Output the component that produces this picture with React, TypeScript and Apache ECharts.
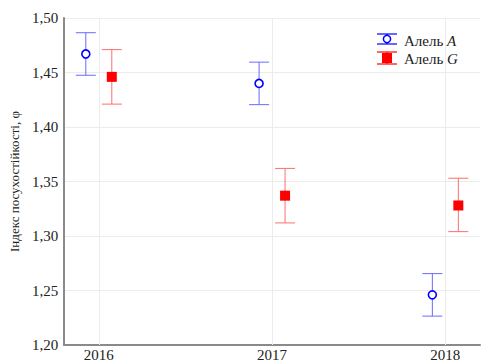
import React, { useEffect, useRef } from "react";
import * as echarts from "echarts";

// Years of observation
const years = [2016, 2017, 2018];

// Allele A: mean drought-tolerance index and its confidence bounds
const alleleAMean = [1.467, 1.44, 1.246];
const alleleALow = [1.4475, 1.4205, 1.2265];
const alleleAHigh = [1.4865, 1.4595, 1.2655];

// Allele G: mean drought-tolerance index and its confidence bounds
const alleleGMean = [1.446, 1.337, 1.328];
const alleleGLow = [1.421, 1.312, 1.304];
const alleleGHigh = [1.471, 1.362, 1.353];

// Y-axis tick range
const yMin = 1.2;
const yMax = 1.5;
const yStep = 0.05;

const SERIF = "'Liberation Serif', 'Times New Roman', serif";
const BLUE = "#0000ff";
const BLUE_BAR = "#6a6aff";
const RED = "#ff0000";
const RED_BAR = "#ff6e6e";
const SHIFT = 0.075; // horizontal dodge of the two alleles around each year

function errorBarItem(color: string) {
  return (params: any, api: any) => {
    const x = api.value(0);
    const lo = api.coord([x, api.value(1)]);
    const hi = api.coord([x, api.value(2)]);
    const hw = 10;
    const style = { stroke: color, lineWidth: 1 };
    return {
      type: "group",
      children: [
        { type: "line", shape: { x1: lo[0], y1: lo[1], x2: hi[0], y2: hi[1] }, style },
        { type: "line", shape: { x1: hi[0] - hw, y1: hi[1], x2: hi[0] + hw, y2: hi[1] }, style },
        { type: "line", shape: { x1: lo[0] - hw, y1: lo[1], x2: lo[0] + hw, y2: lo[1] }, style },
      ],
    };
  };
}

export default function App() {
  const ref = useRef<HTMLDivElement>(null);

  useEffect(() => {
    document.body.style.margin = "0";
    if (!ref.current) return;
    const chart = echarts.init(ref.current, null, { renderer: "svg" });

    const aBars = years.map((y, i) => [y - SHIFT, alleleALow[i], alleleAHigh[i]]);
    const gBars = years.map((y, i) => [y + SHIFT, alleleGLow[i], alleleGHigh[i]]);
    const aPts = years.map((y, i) => [y - SHIFT, alleleAMean[i]]);
    const gPts = years.map((y, i) => [y + SHIFT, alleleGMean[i]]);

    const legendRich = {
      n: { fontFamily: SERIF, fontSize: 15, fill: "#222" },
      i: { fontFamily: SERIF, fontSize: 15, fontStyle: "italic", fill: "#222" },
    };

    // legend drawn as small error-bar glyphs next to the labels
    const lx = 387;
    const legend = {
      type: "group",
      children: [
        { type: "line", shape: { x1: lx - 10, y1: 34, x2: lx + 10, y2: 34 }, style: { stroke: BLUE, lineWidth: 1.2 } },
        { type: "line", shape: { x1: lx, y1: 34, x2: lx, y2: 44 }, style: { stroke: BLUE, lineWidth: 1.2 } },
        { type: "line", shape: { x1: lx - 10, y1: 44, x2: lx + 10, y2: 44 }, style: { stroke: BLUE, lineWidth: 1.2 } },
        { type: "circle", shape: { cx: lx, cy: 39, r: 3.6 }, style: { fill: "#fff", stroke: BLUE, lineWidth: 1.5 } },
        { type: "line", shape: { x1: lx - 10, y1: 52, x2: lx + 10, y2: 52 }, style: { stroke: RED, lineWidth: 1.2 } },
        { type: "line", shape: { x1: lx, y1: 52, x2: lx, y2: 64 }, style: { stroke: RED, lineWidth: 1.2 } },
        { type: "line", shape: { x1: lx - 10, y1: 64, x2: lx + 10, y2: 64 }, style: { stroke: RED, lineWidth: 1.2 } },
        { type: "rect", shape: { x: lx - 5, y: 53, width: 10, height: 10 }, style: { fill: RED } },
        {
          type: "text",
          x: 404,
          y: 41,
          style: { text: "{n|Алель }{i|A}", verticalAlign: "middle", rich: legendRich },
        },
        {
          type: "text",
          x: 404,
          y: 59,
          style: { text: "{n|Алель }{i|G}", verticalAlign: "middle", rich: legendRich },
        },
      ],
    };

    chart.setOption({
      animation: false,
      backgroundColor: "#fff",
      grid: { left: 58, top: 18, bottom: 17, right: -5 },
      xAxis: {
        type: "value",
        min: 2015.8,
        max: 2018.2,
        interval: 0.2,
        axisLine: { show: true, lineStyle: { color: "#8a8a8a", width: 2 } },
        axisTick: { show: false },
        splitLine: { show: false },
        axisLabel: {
          margin: 2,
          fontFamily: SERIF,
          fontSize: 15,
          lineHeight: 15,
          color: "#222",
          formatter: (v: number) =>
            Math.abs(v - Math.round(v)) < 1e-6 ? String(Math.round(v)) : "",
        },
      },
      yAxis: {
        type: "value",
        min: yMin,
        max: yMax,
        interval: yStep,
        name: "Індекс посухостійкості, φ",
        nameLocation: "middle",
        nameGap: 43,
        nameTextStyle: { fontFamily: SERIF, fontSize: 13, color: "#222" },
        axisLine: { show: true, lineStyle: { color: "#8a8a8a", width: 2 } },
        axisTick: { show: false },
        splitLine: { show: true, lineStyle: { color: "#ececec", width: 1 } },
        axisLabel: {
          margin: 6,
          fontFamily: SERIF,
          fontSize: 15,
          color: "#222",
          formatter: (v: number) => v.toFixed(2).replace(".", ","),
        },
      },
      graphic: [legend],
      series: [
        {
          type: "custom",
          name: "A bars",
          renderItem: errorBarItem(BLUE_BAR),
          data: aBars,
          z: 3,
          markLine: {
            silent: true,
            symbol: "none",
            label: { show: false },
            lineStyle: { color: "#ececec", width: 1, type: "solid" },
            data: years.map((y) => ({ xAxis: y })),
            z: 1,
          },
        },
        {
          type: "custom",
          name: "G bars",
          renderItem: errorBarItem(RED_BAR),
          data: gBars,
          z: 3,
        },
        {
          type: "scatter",
          name: "Алель A",
          data: aPts,
          symbol: "circle",
          symbolSize: 8,
          itemStyle: { color: "#fff", borderColor: BLUE, borderWidth: 1.6, opacity: 1 },
          emphasis: { disabled: true },
          z: 5,
        },
        {
          type: "scatter",
          name: "Алель G",
          data: gPts,
          symbol: "rect",
          symbolSize: 10,
          itemStyle: { color: RED, opacity: 1 },
          emphasis: { disabled: true },
          z: 5,
        },
      ],
    });

    return () => chart.dispose();
  }, []);

  return <div ref={ref} style={{ width: 483, height: 362 }} />;
}
